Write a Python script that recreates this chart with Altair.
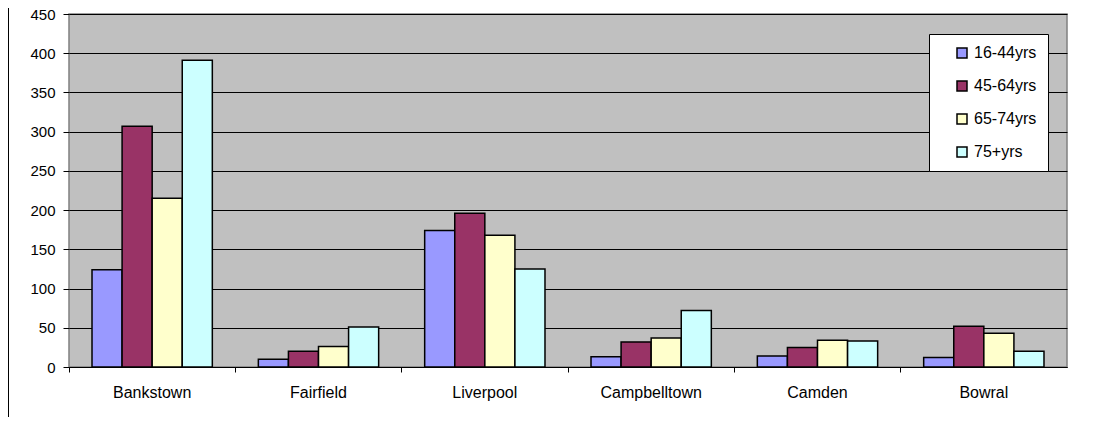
import altair as alt
import pandas as pd

regions = ["Bankstown", "Fairfield", "Liverpool", "Campbelltown", "Camden", "Bowral"]
series = ["16-44yrs", "45-64yrs", "65-74yrs", "75+yrs"]
colors = ["#9999FF", "#993366", "#FFFFCC", "#CCFFFF"]
v_16_44 = [124, 10, 174, 13, 14, 12]
v_45_64 = [307, 20, 196, 32, 25, 52]
v_65_74 = [215, 26, 168, 37, 34, 43]
v_75p = [391, 51, 125, 72, 33, 20]
y_ticks = [0, 50, 100, 150, 200, 250, 300, 350, 400, 450]

rows = []
for s, vals in zip(series, [v_16_44, v_45_64, v_65_74, v_75p]):
    for r, v in zip(regions, vals):
        rows.append({"region": r, "series": s, "value": v})
df = pd.DataFrame(rows)

FONT = "Liberation Sans"

bars = alt.Chart(df).mark_bar(stroke="black", strokeWidth=1.5, opacity=1).encode(
    x=alt.X("region:N", sort=regions,
            scale=alt.Scale(paddingInner=0, paddingOuter=0),
            axis=alt.Axis(title=None, labelAngle=0, bandPosition=0,
                          ticks=True, tickSize=5, tickColor="black", domainColor="black",
                          labelFont=FONT, labelFontSize=16, labelColor="black",
                          labelPadding=12, grid=False)),
    xOffset=alt.XOffset("series:N", sort=series,
                        scale=alt.Scale(paddingInner=0, paddingOuter=0.765)),
    y=alt.Y("value:Q", scale=alt.Scale(domain=[0, 450], nice=False),
            axis=alt.Axis(title=None, values=y_ticks, grid=True, gridColor="black", gridWidth=1,
                          tickSize=6, tickColor="black", domain=False,
                          labelFont=FONT, labelFontSize=15, labelColor="black", labelPadding=8)),
    color=alt.Color("series:N", sort=series,
                    scale=alt.Scale(domain=series, range=colors),
                    legend=alt.Legend(title=None, orient="none", legendX=860, legendY=20,
                                      fillColor="white", strokeColor="black", padding=11,
                                      symbolType="square", symbolSize=100,
                                      symbolStrokeColor="black", symbolStrokeWidth=1.5,
                                      symbolOffset=14, symbolOpacity=1,
                                      labelExpr="datum.label + '\u00a0\u00a0\u00a0\u00a0'",
                                      labelFont=FONT, labelFontSize=16, labelColor="black",
                                      labelOffset=4, rowPadding=17)),
)

border = alt.Chart(pd.DataFrame({"a": [0]})).mark_rule(color="black", strokeWidth=1, clip=False).encode(
    x=alt.value(-60.5), y=alt.value(-6), y2=alt.value(412)
)

chart = alt.layer(bars, border).properties(
    width=998, height=353,
    autosize=alt.AutoSizeParams(type="none"),
    padding={"left": 61, "top": 6, "right": 20, "bottom": 50},
    background="white",
).configure_view(fill="#C0C0C0", stroke="#808080", strokeWidth=1.5)

chart.save("out.html", embed_options={"renderer": "svg", "actions": False})
